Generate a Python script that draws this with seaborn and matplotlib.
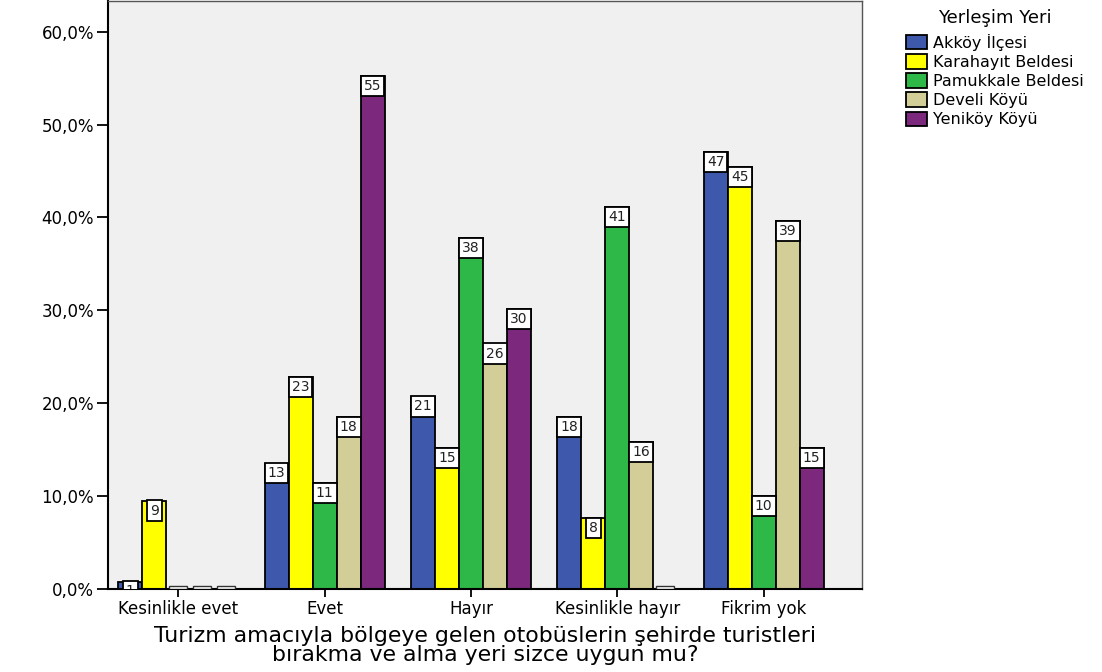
import pandas as pd
import matplotlib.pyplot as plt
import seaborn as sns
from matplotlib.patches import Patch, Rectangle

# Kategoriler ve yerleşim yerleri
kategoriler = ['Kesinlikle evet', 'Evet', 'Hayır', 'Kesinlikle hayır', 'Fikrim yok']
yerler = ['Akköy İlçesi', 'Karahayıt Beldesi', 'Pamukkale Beldesi', 'Develi Köyü', 'Yeniköy Köyü']
renkler = ['#3E58AC', '#FFFF00', '#2EB848', '#D3CE97', '#7B287D']

# Yüzdeler
akkoy = [0.8, 13.5, 20.7, 18.5, 47.0]
karahayit = [9.5, 22.8, 15.2, 7.6, 45.4]
pamukkale = [0.0, 11.4, 37.8, 41.1, 10.0]
develi = [0.0, 18.5, 26.4, 15.8, 39.6]
yenikoy = [0.0, 55.2, 30.1, 0.0, 15.2]

# Çubuk etiketleri
etiket_akkoy = ['1', '13', '21', '18', '47']
etiket_karahayit = ['9', '23', '15', '8', '45']
etiket_pamukkale = ['', '11', '38', '41', '10']
etiket_develi = ['', '18', '26', '16', '39']
etiket_yenikoy = ['', '55', '30', '', '15']

degerler = [akkoy, karahayit, pamukkale, develi, yenikoy]
etiketler = [etiket_akkoy, etiket_karahayit, etiket_pamukkale, etiket_develi, etiket_yenikoy]

rows = []
for yer, vals in zip(yerler, degerler):
    for kat, v in zip(kategoriler, vals):
        rows.append({'kategori': kat, 'yer': yer, 'yuzde': v})
df = pd.DataFrame(rows)

plt.rcParams['font.family'] = ['DejaVu Sans']

fig = plt.figure(figsize=(11.02, 6.72), dpi=100)
ax = fig.add_axes([0.098, 0.1235, 0.684, 0.8755])
ax.set_facecolor('#F0F0F0')

sns.barplot(data=df, x='kategori', y='yuzde', hue='yer', order=kategoriler, hue_order=yerler,
            palette=renkler, edgecolor='black', linewidth=1.3, width=0.82, gap=0,
            saturation=1, legend=False, ax=ax)

# Etiket kutuları
for cont, labs in zip(ax.containers, etiketler):
    for bar, lab in zip(cont, labs):
        w = bar.get_width()
        x = bar.get_x() + w / 2
        h = bar.get_height()
        if lab:
            ax.annotate(lab, (x, h), xytext=(0, -2.0), textcoords='offset points',
                        ha='center', va='top', fontsize=10, color='#222222',
                        bbox=dict(boxstyle='square,pad=0.22', fc='white', ec='black', lw=1.3),
                        annotation_clip=False, clip_on=True)
        else:
            # sıfır değerler için boş yassı kutu
            ax.add_patch(Rectangle((bar.get_x() + w * 0.12, 0), w * 0.76, 0.3,
                                   fc='white', ec='#333333', lw=1.0, zorder=5))

ax.set_xlim(-0.48, 4.67)
ax.set_ylim(0, 63.33)
ax.set_yticks([0, 10, 20, 30, 40, 50, 60])
ax.set_yticklabels([f'{v:.1f}%'.replace('.', ',') for v in [0, 10, 20, 30, 40, 50, 60]], fontsize=12)
ax.tick_params(axis='y', length=8, width=1.3, pad=2)
ax.tick_params(axis='x', length=6, width=1.3, labelsize=12, pad=2)
ax.set_ylabel('')
ax.set_xlabel('Turizm amacıyla bölgeye gelen otobüslerin şehirde turistleri\nbırakma ve alma yeri sizce uygun mu?',
              fontsize=15.8, linespacing=0.9, labelpad=6)

for s in ['left', 'bottom']:
    ax.spines[s].set_color('black')
    ax.spines[s].set_linewidth(1.5)
for s in ['top', 'right']:
    ax.spines[s].set_color('#555555')
    ax.spines[s].set_linewidth(1.0)

handles = [Patch(facecolor=c, edgecolor='black', linewidth=1.3) for c in renkler]
leg = fig.legend(handles, yerler, title='Yerleşim Yeri', loc='upper left',
                 bbox_to_anchor=(0.811, 1.006), frameon=False, fontsize=11.5,
                 title_fontsize=13, handlelength=1.3, handleheight=1.0,
                 handletextpad=0.35, labelspacing=0.22, borderpad=0.3)
leg._legend_box.sep = 5

fig.savefig('out.png', dpi=100)
